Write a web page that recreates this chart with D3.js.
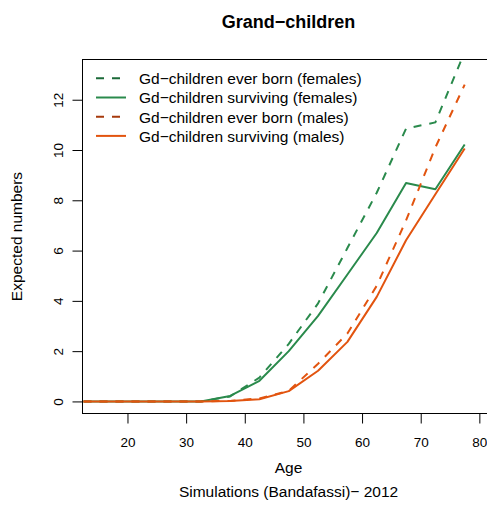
<!DOCTYPE html>
<html>
<head>
<meta charset="utf-8">
<script src="https://cdn.jsdelivr.net/npm/d3@7"></script>
<style>
html, body { margin: 0; padding: 0; background: #fff; }
svg { display: block; font-family: "Liberation Sans", Arial, Helvetica, sans-serif; }
</style>
</head>
<body>
<svg id="chart" width="487" height="508"></svg>
<script>
// ---- data ----
const ages = [12.5, 17.5, 22.5, 27.5, 32.5, 37.5, 42.5, 47.5, 52.5, 57.5, 62.5, 67.5, 72.5, 77.5];
const femEverBorn = [0, 0, 0, 0, 0, 0.2, 0.95, 2.29, 3.9, 6.1, 8.3, 10.85, 11.1, 13.9];
const femSurviving = [0, 0, 0, 0, 0, 0.22, 0.82, 2.0, 3.40, 5.05, 6.70, 8.69, 8.44, 10.22];
const maleEverBorn = [0, 0, 0, 0, 0, 0.02, 0.12, 0.42, 1.5, 2.7, 4.6, 7.2, 10.1, 12.6];
const maleSurviving = [0, 0, 0, 0, 0, 0.02, 0.09, 0.41, 1.22, 2.37, 4.16, 6.41, 8.24, 10.06];
const xTicks = [20, 30, 40, 50, 60, 70, 80];
const yTicks = [0, 2, 4, 6, 8, 10, 12];
const legendLabels = [
  "Gd\u2212children ever born (females)",
  "Gd\u2212children surviving (females)",
  "Gd\u2212children ever born (males)",
  "Gd\u2212children surviving (males)"
];
const titleText = "Grand\u2212children";
const xLabel = "Age";
const subLabel = "Simulations (Bandafassi)\u2212 2012";
const yLabel = "Expected numbers";

// ---- layout ----
const pLeft = 82.5, pRight = 494.6, pTop = 59.5, pBottom = 413.5;
const svg = d3.select("#chart");

const x = d3.scaleLinear().domain([12.33, 82.6]).range([pLeft, pRight]);
const y = d3.scaleLinear().domain([-0.48, 13.6]).range([pBottom, pTop]);

const series = [
  { values: femEverBorn, color: "#2a8a4c", legendColor: "#1b6a38", dash: "8,8" },
  { values: femSurviving, color: "#2a8a4c", legendColor: "#2a8a4c", dash: null },
  { values: maleEverBorn, color: "#e2540f", legendColor: "#a63a0c", dash: "8,8" },
  { values: maleSurviving, color: "#e2540f", legendColor: "#e2540f", dash: null }
];

svg.append("defs").append("clipPath").attr("id", "clip")
  .append("rect").attr("x", pLeft).attr("y", pTop)
  .attr("width", pRight - pLeft).attr("height", pBottom - pTop);

const line = d3.line().x((d, i) => x(ages[i])).y(d => y(d));
const g = svg.append("g").attr("clip-path", "url(#clip)");
series.forEach(s => {
  g.append("path")
    .datum(s.values)
    .attr("d", line)
    .attr("fill", "none")
    .attr("stroke", s.color)
    .attr("stroke-width", 2)
    .attr("stroke-dasharray", s.dash)
    .attr("stroke-linejoin", "round");
});

// box
svg.append("rect").attr("x", pLeft).attr("y", pTop)
  .attr("width", pRight - pLeft).attr("height", pBottom - pTop)
  .attr("fill", "none").attr("stroke", "#000").attr("stroke-width", 1);

// x axis
const xAxis = d3.axisBottom(x).tickValues(xTicks).tickSize(10).tickPadding(14).tickFormat(d3.format("d"));
const gx = svg.append("g").attr("transform", `translate(0,${pBottom})`).call(xAxis);
gx.select(".domain").remove();
gx.selectAll("text").attr("font-size", 13.5).attr("fill", "#000").attr("font-family", "Liberation Sans, Arial, sans-serif");
gx.selectAll("line").attr("stroke", "#000");

// y axis
const yAxis = d3.axisLeft(y).tickValues(yTicks).tickSize(10).tickPadding(0).tickFormat(d3.format("d"));
const gy = svg.append("g").attr("transform", `translate(${pLeft},0)`).call(yAxis);
gy.select(".domain").remove();
gy.selectAll("line").attr("stroke", "#000");
gy.selectAll("text")
  .attr("font-size", 13.5).attr("fill", "#000")
  .attr("font-family", "Liberation Sans, Arial, sans-serif")
  .attr("x", null).attr("dy", null)
  .attr("text-anchor", "middle")
  .attr("transform", "translate(-20,0) rotate(-90)");

// title
svg.append("text").attr("x", (pLeft + pRight) / 2).attr("y", 27.5)
  .attr("text-anchor", "middle").attr("font-size", 18).attr("font-weight", "bold")
  .text(titleText);

// axis labels
svg.append("text").attr("x", (pLeft + pRight) / 2).attr("y", 472.5)
  .attr("text-anchor", "middle").attr("font-size", 15.5).text(xLabel);
svg.append("text").attr("x", (pLeft + pRight) / 2).attr("y", 497)
  .attr("text-anchor", "middle").attr("font-size", 15.5).text(subLabel);
svg.append("text")
  .attr("transform", `translate(22,${(pTop + pBottom) / 2}) rotate(-90)`)
  .attr("text-anchor", "middle").attr("font-size", 15.5).text(yLabel);

// legend
const legRowY = [78.3, 97.5, 116.7, 135.9];
const leg = svg.append("g");
series.forEach((s, i) => {
  leg.append("line")
    .attr("x1", 96).attr("x2", 126)
    .attr("y1", legRowY[i]).attr("y2", legRowY[i])
    .attr("stroke", s.legendColor).attr("stroke-width", 2)
    .attr("stroke-dasharray", s.dash);
  leg.append("text").attr("x", 139).attr("y", legRowY[i] + 5.8)
    .attr("font-size", 15.5).text(legendLabels[i]);
});
</script>
</body>
</html>
